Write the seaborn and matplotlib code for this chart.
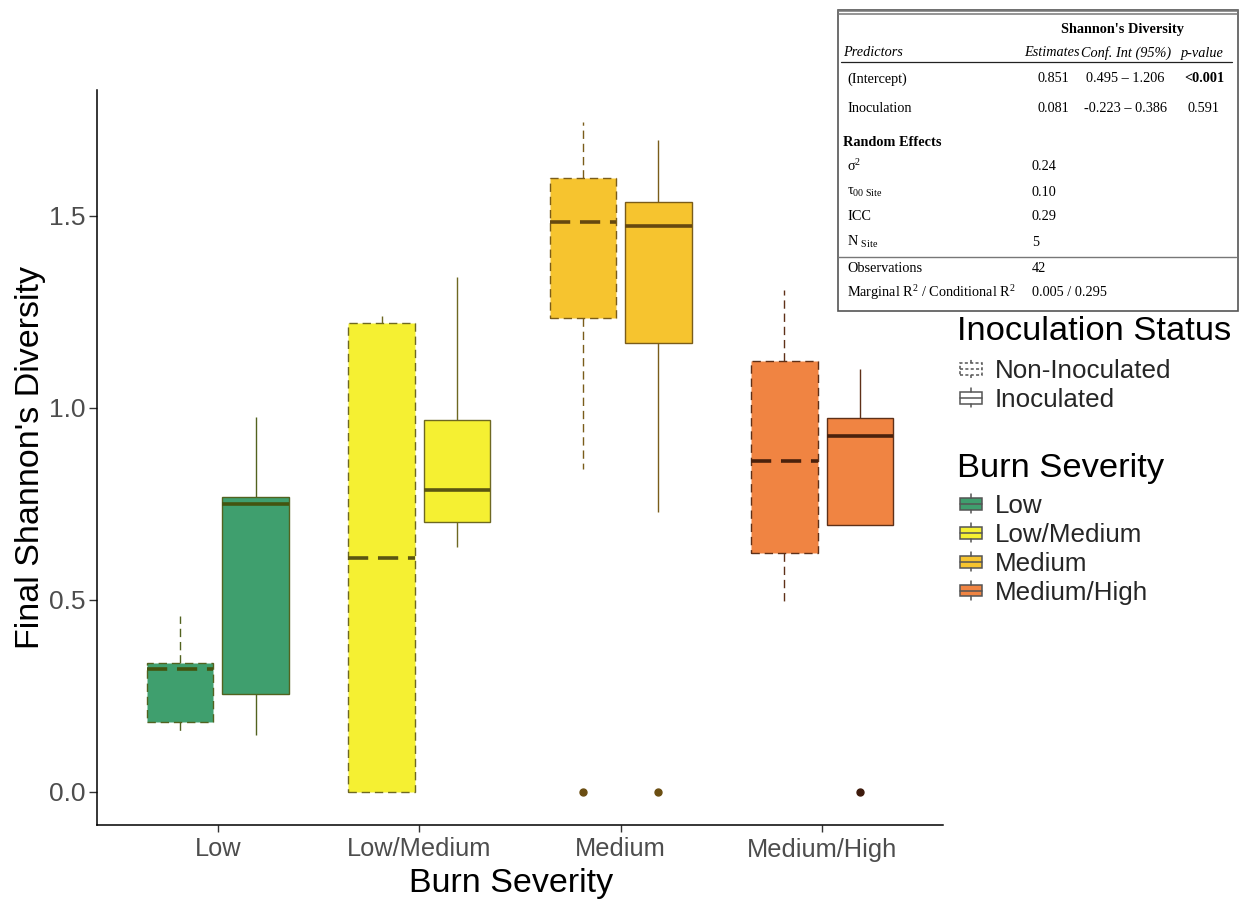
import numpy as np
import pandas as pd
import matplotlib
matplotlib.use("Agg")
import matplotlib.pyplot as plt
import seaborn as sns
from matplotlib.patches import Rectangle, Patch
from matplotlib.lines import Line2D
from matplotlib.legend_handler import HandlerBase

# ---------------------------------------------------------------- data
severity = ["Low", "Low/Medium", "Medium", "Medium/High"]
status = ["Non-Inoculated", "Inoculated"]

# box summaries per burn severity: lower whisker, Q1, median, Q3, upper whisker
non_inoc_lo = [0.148, 0.000, 0.841, 0.490]
non_inoc_q1 = [0.181, 0.000, 1.233, 0.621]
non_inoc_med = [0.320, 0.609, 1.484, 0.862]
non_inoc_q3 = [0.335, 1.220, 1.598, 1.120]
non_inoc_hi = [0.457, 1.238, 1.743, 1.307]
non_inoc_out = [[], [], [0.0], []]

inoc_lo = [0.148, 0.638, 0.729, 0.693]
inoc_q1 = [0.253, 0.702, 1.168, 0.693]
inoc_med = [0.750, 0.786, 1.472, 0.927]
inoc_q3 = [0.767, 0.967, 1.536, 0.973]
inoc_hi = [0.976, 1.339, 1.696, 1.100]
inoc_out = [[], [], [0.0], [0.0]]

# mixed-model summary table
tab_predictors = ["(Intercept)", "Inoculation"]
tab_estimates = ["0.851", "0.081"]
tab_ci = ["0.495 \u2013 1.206", "-0.223 \u2013 0.386"]
tab_p = ["<0.001", "0.591"]
tab_random_labels = ["\u03c3$^{\\mathrm{2}}$", "\u03c4$_{\\mathrm{00\\ Site}}$",
                     "ICC", "N $_{\\mathrm{Site}}$"]
tab_random_values = ["0.24", "0.10", "0.29", "5"]
tab_fit_labels = ["Observations",
                  "Marginal R$^{\\mathrm{2}}$ / Conditional R$^{\\mathrm{2}}$"]
tab_fit_values = ["42", "0.005 / 0.295"]


def observations(lo, q1, med, q3, hi, out):
    """Values whose linear-interpolated quartiles reproduce the summary."""
    if out:
        return list(out) + [lo, q1, q1, med, q3, q3, hi, hi]
    return [lo, q1, med, q3, hi]


rows = []
for st, arrs in zip(status, [
        (non_inoc_lo, non_inoc_q1, non_inoc_med, non_inoc_q3, non_inoc_hi, non_inoc_out),
        (inoc_lo, inoc_q1, inoc_med, inoc_q3, inoc_hi, inoc_out)]):
    for i, sev in enumerate(severity):
        vals = observations(*(a[i] for a in arrs))
        rows += [{"Burn Severity": sev, "Inoculation Status": st, "Diversity": v}
                 for v in vals]
df = pd.DataFrame(rows)

# ---------------------------------------------------------------- style
fill_colors = ["#3f9f6e", "#f5f032", "#f6c42f", "#f08442"]
edge_colors = ["#52621f", "#6e6822", "#7a5c1a", "#5e3018"]
median_colors = ["#43540f", "#5a5512", "#654810", "#4a210c"]
flier_colors = ["#52621f", "#6e6822", "#6b4e12", "#3d1a0c"]
dash = (0, (6, 3.5))

sns.set_style("white")
plt.rcParams["font.family"] = ["Liberation Sans", "DejaVu Sans"]
plt.rcParams["mathtext.fontset"] = "custom"
plt.rcParams["mathtext.rm"] = "Liberation Serif"
plt.rcParams["mathtext.it"] = "Liberation Serif:italic"
plt.rcParams["mathtext.bf"] = "Liberation Serif:bold"

W, H = 1245, 899
fig = plt.figure(figsize=(W / 100, H / 100), dpi=100)
fig.patch.set_facecolor("white")


def fx(px):
    return px / W


def fy(py):
    return 1 - py / H


ax = fig.add_axes([fx(97), fy(825), (943 - 97) / W, (825 - 90) / H])

sns.boxplot(data=df, x="Burn Severity", y="Diversity", hue="Inoculation Status",
            order=severity, hue_order=status, width=0.75, gap=0.12, dodge=True,
            whis=1.5, showcaps=False, linewidth=1.0, legend=False, ax=ax)

for h, cont in enumerate(ax.containers):
    ls = dash if status[h] == "Non-Inoculated" else "-"
    for j, box in enumerate(cont.boxes):
        verts = box.get_path().vertices
        k = int(np.clip(round(float(np.mean(verts[:, 0]))), 0, len(severity) - 1))
        box.set_facecolor(fill_colors[k])
        box.set_edgecolor(edge_colors[k])
        box.set_linestyle(ls)
        box.set_linewidth(1.0)
        med = cont.medians[j]
        med.set_color(median_colors[k])
        med.set_linewidth(2.6)
        med.set_linestyle((0, (5.6, 2.7)) if ls != "-" else "-")
        for wk in cont.whiskers[2 * j:2 * j + 2]:
            wk.set_color(edge_colors[k])
            wk.set_linewidth(1.0)
            wk.set_linestyle(ls)
        fl = cont.fliers[j]
        fl.set_marker("o")
        fl.set_markersize(5)
        fl.set_markerfacecolor(flier_colors[k])
        fl.set_markeredgecolor(flier_colors[k])

ax.set_xlim(-0.6, 3.6)
ax.set_ylim(-0.087, 1.827)
ax.set_yticks([0.0, 0.5, 1.0, 1.5])
ax.set_yticklabels(["0.0", "0.5", "1.0", "1.5"])
for side in ["top", "right"]:
    ax.spines[side].set_visible(False)
for side in ["left", "bottom"]:
    ax.spines[side].set_color("black")
    ax.spines[side].set_linewidth(1.1)
ax.tick_params(axis="x", length=5, width=1, color="#333333",
               labelcolor="#4d4d4d", labelsize=18.3, pad=4, bottom=True)
ax.tick_params(axis="y", length=6, width=1, color="#333333",
               labelcolor="#4d4d4d", labelsize=19, pad=2, left=True)
ax.set_xlabel("Burn Severity", fontsize=24.5, color="black")
ax.set_ylabel("Final Shannon's Diversity", fontsize=24.5, color="black")
ax.xaxis.set_label_coords(0.49, -0.058)
ax.yaxis.set_label_coords(-0.06, 0.5)


# ---------------------------------------------------------------- legends
class BoxKey(HandlerBase):
    """Miniature boxplot glyph used as a legend key."""

    def create_artists(self, legend, orig, xdescent, ydescent, width, height,
                       fontsize, trans):
        fc = orig.get_facecolor()
        ec = orig.get_edgecolor()
        ls = orig.get_linestyle()
        x0, y0 = -xdescent, -ydescent
        cx = x0 + width / 2
        kw = dict(color=ec, lw=1.1, linestyle=ls, transform=trans)
        box = Rectangle((x0, y0 + height * 0.2), width, height * 0.6,
                        facecolor=fc, edgecolor=ec, lw=1.1, linestyle=ls,
                        transform=trans)
        med = Line2D([x0, x0 + width], [y0 + height * 0.5] * 2, **kw)
        w1 = Line2D([cx, cx], [y0, y0 + height * 0.2], **kw)
        w2 = Line2D([cx, cx], [y0 + height * 0.8, y0 + height], **kw)
        return [box, med, w1, w2]


key_edge = "#555555"
inoc_handles = [Patch(facecolor="white", edgecolor=key_edge, linestyle=(0, (2, 1.5))),
                Patch(facecolor="white", edgecolor=key_edge, linestyle="-")]
sev_handles = [Patch(facecolor=c, edgecolor=key_edge) for c in fill_colors]

leg_kw = dict(loc="upper left", frameon=False, borderpad=0, borderaxespad=0,
              handlelength=0.85, handleheight=0.75, handletextpad=0.5,
              labelspacing=0.19, fontsize=18.7, alignment="left",
              handler_map={Patch: BoxKey()})
fig.text(fx(957), fy(331), "Inoculation Status", fontsize=24.8, ha="left",
         va="center", color="black")
fig.legend(inoc_handles, status, bbox_to_anchor=(fx(960), fy(359)), **leg_kw)
fig.text(fx(957), fy(469), "Burn Severity", fontsize=24.8, ha="left",
         va="center", color="black")
fig.legend(sev_handles, severity, bbox_to_anchor=(fx(960), fy(494)), **leg_kw)

# ---------------------------------------------------------------- model table
serif = "Liberation Serif"
tfs = 10.3
tx = dict(fontsize=tfs, family=serif, va="center", color="black")

fig.patches.append(Rectangle((fx(838), fy(311)), fx(1238) - fx(838), fy(10) - fy(311),
                             transform=fig.transFigure, facecolor="white",
                             edgecolor="#555555", lw=1.2, zorder=5))
for yy in (11, 14):
    fig.lines.append(Line2D([fx(838), fx(1238)], [fy(yy), fy(yy)],
                            transform=fig.transFigure, color="#777777",
                            lw=1.1, zorder=6))
fig.lines.append(Line2D([fx(841), fx(1232)], [fy(62), fy(62)],
                        transform=fig.transFigure, color="#222222", lw=0.9, zorder=6))
fig.lines.append(Line2D([fx(838), fx(1236)], [fy(257), fy(257)],
                        transform=fig.transFigure, color="#777777", lw=1.0, zorder=6))

fig.text(fx(1122), fy(30), "Shannon's Diversity", ha="center", weight="bold",
         zorder=7, **tx)
fig.text(fx(843), fy(53), "Predictors", ha="left", style="italic", zorder=7, **tx)
fig.text(fx(1052), fy(53), "Estimates", ha="center", style="italic", zorder=7, **tx)
fig.text(fx(1126), fy(53), "Conf. Int (95%)", ha="center", style="italic", zorder=7, **tx)
fig.text(fx(1202), fy(53), "p-value", ha="center", style="italic", zorder=7, **tx)

for r, yy in enumerate([79, 109]):
    fig.text(fx(847), fy(yy), tab_predictors[r], ha="left", zorder=7, **tx)
    fig.text(fx(1053), fy(yy), tab_estimates[r], ha="center", zorder=7, **tx)
    fig.text(fx(1125), fy(yy), tab_ci[r], ha="center", zorder=7, **tx)
    fig.text(fx(1204), fy(yy), tab_p[r], ha="center", zorder=7,
             weight="bold" if tab_p[r].startswith("<") else "normal", **tx)

fig.text(fx(843), fy(143), "Random Effects", ha="left", weight="bold", zorder=7, **tx)
for lab, val, yy in zip(tab_random_labels, tab_random_values, [166, 192, 217, 242]):
    fig.text(fx(847), fy(yy), lab, ha="left", zorder=7, **tx)
    fig.text(fx(1032), fy(yy), val, ha="left", zorder=7, **tx)
for lab, val, yy in zip(tab_fit_labels, tab_fit_values, [269, 293]):
    fig.text(fx(847), fy(yy), lab, ha="left", zorder=7, **tx)
    fig.text(fx(1032), fy(yy), val, ha="left", zorder=7, **tx)

fig.savefig("out.png", dpi=100, facecolor="white")
